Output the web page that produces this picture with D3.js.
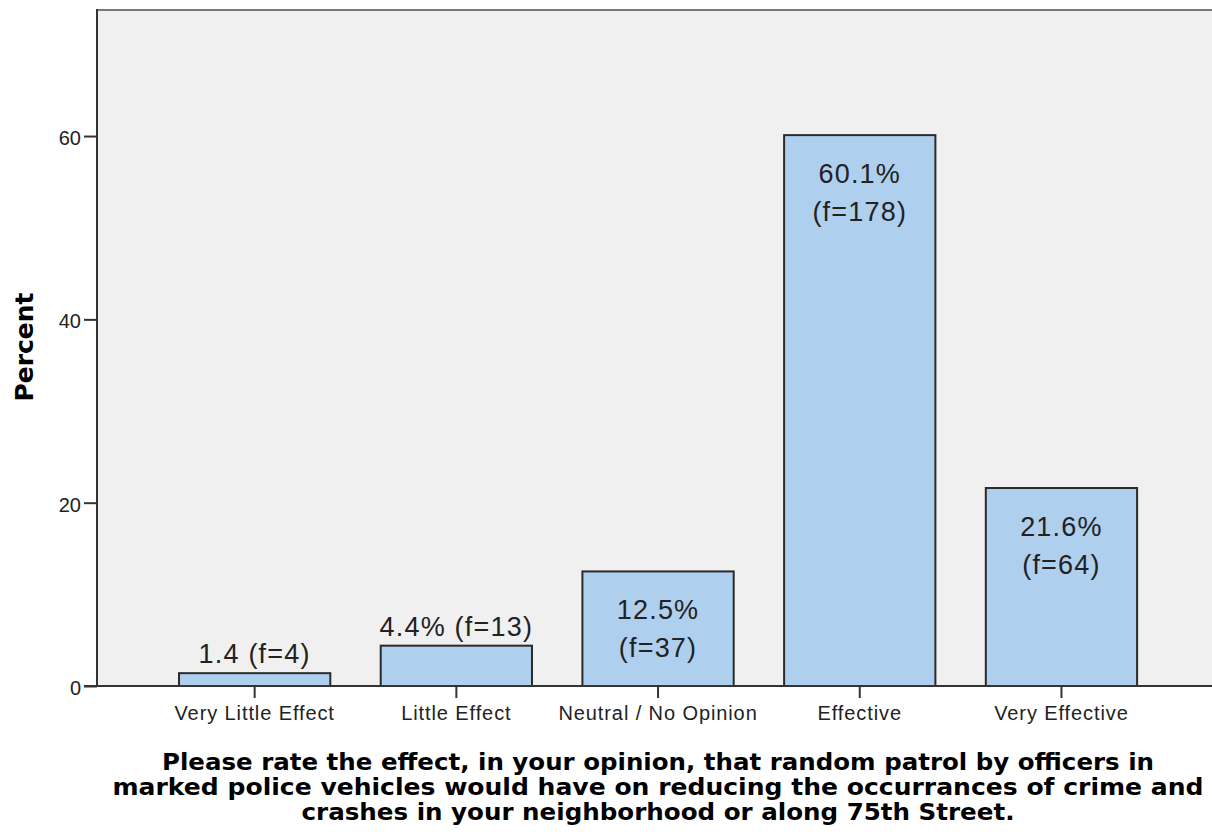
<!DOCTYPE html>
<html>
<head>
<meta charset="utf-8">
<script src="https://cdn.jsdelivr.net/npm/d3@7"></script>
<style>
  html, body { margin: 0; padding: 0; background: #fff; }
  svg { display: block; }
</style>
</head>
<body>
<svg id="chart" width="1212" height="838"></svg>
<script>
// ---- data ----
const categories = ["Very Little Effect", "Little Effect", "Neutral / No Opinion", "Effective", "Very Effective"];
const percents = [1.4, 4.4, 12.5, 60.1, 21.6];
const freqs = [4, 13, 37, 178, 64];
const labelLines = [
  ["1.4 (f=4)"],
  ["4.4% (f=13)"],
  ["12.5%", "(f=37)"],
  ["60.1%", "(f=178)"],
  ["21.6%", "(f=64)"]
];
const labelInside = [false, false, true, true, true];
const yTicks = [0, 20, 40, 60];
const yMax = 73.75;
const yTitle = "Percent";
const xTitleLines = [
  "Please rate the effect, in your opinion, that random patrol by officers in",
  "marked police vehicles would have on reducing the occurrances of crime and",
  "crashes in your neighborhood or along 75th Street."
];
const xTitleWidths = [992, 1091, 713];

// ---- layout ----
const svg = d3.select("#chart");
const plotLeft = 97, plotRight = 1212, plotTop = 10, plotBottom = 686;

const x = d3.scaleBand()
  .domain(categories)
  .range([153.8, 1162.3])
  .paddingInner(0.25)
  .paddingOuter(0.125);
const y = d3.scaleLinear().domain([0, yMax]).range([plotBottom, plotTop]);

// plot background
svg.append("rect")
  .attr("x", plotLeft).attr("y", plotTop)
  .attr("width", plotRight - plotLeft).attr("height", plotBottom - plotTop)
  .attr("fill", "#f0f0f0");

// top border
svg.append("line")
  .attr("x1", plotLeft).attr("x2", plotRight)
  .attr("y1", plotTop).attr("y2", plotTop)
  .attr("stroke", "#777").attr("stroke-width", 2);

const data = categories.map((c, i) => ({ c, p: percents[i], f: freqs[i], lines: labelLines[i], inside: labelInside[i] }));

// bars
svg.append("g").selectAll("rect").data(data).join("rect")
  .attr("x", d => x(d.c))
  .attr("y", d => y(d.p))
  .attr("width", x.bandwidth())
  .attr("height", d => y(0) - y(d.p))
  .attr("fill", "#aecfee")
  .attr("stroke", "#2b2b2b")
  .attr("stroke-width", 2);

// y axis
const yAxis = d3.axisLeft(y).tickValues(yTicks).tickSize(13).tickPadding(3).tickFormat(d3.format("d"));
const gy = svg.append("g").attr("transform", `translate(${plotLeft},0)`).call(yAxis);
gy.select(".domain").remove();
gy.selectAll(".tick line").attr("stroke", "#333").attr("stroke-width", 2);
gy.selectAll(".tick text")
  .attr("font-family", "Liberation Sans, Arial, sans-serif")
  .attr("font-size", 20).attr("fill", "#222").attr("dy", "0.42em");
svg.append("line")
  .attr("x1", plotLeft).attr("x2", plotLeft)
  .attr("y1", plotTop - 1).attr("y2", plotBottom)
  .attr("stroke", "#333").attr("stroke-width", 2);

// x axis
const xAxis = d3.axisBottom(x).tickSize(12).tickPadding(8);
const gx = svg.append("g").attr("transform", `translate(0,${plotBottom})`).call(xAxis);
gx.select(".domain").remove();
gx.selectAll(".tick line").attr("stroke", "#333").attr("stroke-width", 2);
gx.selectAll(".tick text")
  .attr("font-family", "Liberation Sans, Arial, sans-serif")
  .attr("font-size", 20).attr("letter-spacing", "0.9px").attr("fill", "#222").attr("dy", "0.71em");
svg.append("line")
  .attr("x1", plotLeft - 13).attr("x2", plotRight)
  .attr("y1", plotBottom).attr("y2", plotBottom)
  .attr("stroke", "#333").attr("stroke-width", 2);

// value labels
const lg = svg.append("g")
  .attr("font-family", "Liberation Sans, Arial, sans-serif")
  .attr("font-size", 27).attr("letter-spacing", "1.2px").attr("fill", "#222").attr("text-anchor", "middle");
data.forEach(d => {
  const cx = x(d.c) + x.bandwidth() / 2;
  d.lines.forEach((t, j) => {
    const yy = d.inside ? y(d.p) + 48 + j * 38 : y(d.p) - 10;
    lg.append("text").attr("x", cx).attr("y", yy).text(t);
  });
});

// y title
svg.append("text")
  .attr("transform", `translate(33,347) rotate(-90)`)
  .attr("text-anchor", "middle")
  .attr("font-family", "DejaVu Sans, sans-serif")
  .attr("font-weight", "bold").attr("font-size", 25).attr("fill", "#000")
  .text(yTitle);

// x title
const xt = svg.append("g")
  .attr("font-family", "DejaVu Sans, sans-serif")
  .attr("font-weight", "bold").attr("font-size", 22.5).attr("fill", "#000")
  .attr("text-anchor", "middle");
xTitleLines.forEach((t, i) => {
  xt.append("text").attr("x", 658).attr("y", 770 + i * 25)
    .attr("textLength", xTitleWidths[i]).attr("lengthAdjust", "spacingAndGlyphs")
    .text(t);
});
</script>
</body>
</html>
